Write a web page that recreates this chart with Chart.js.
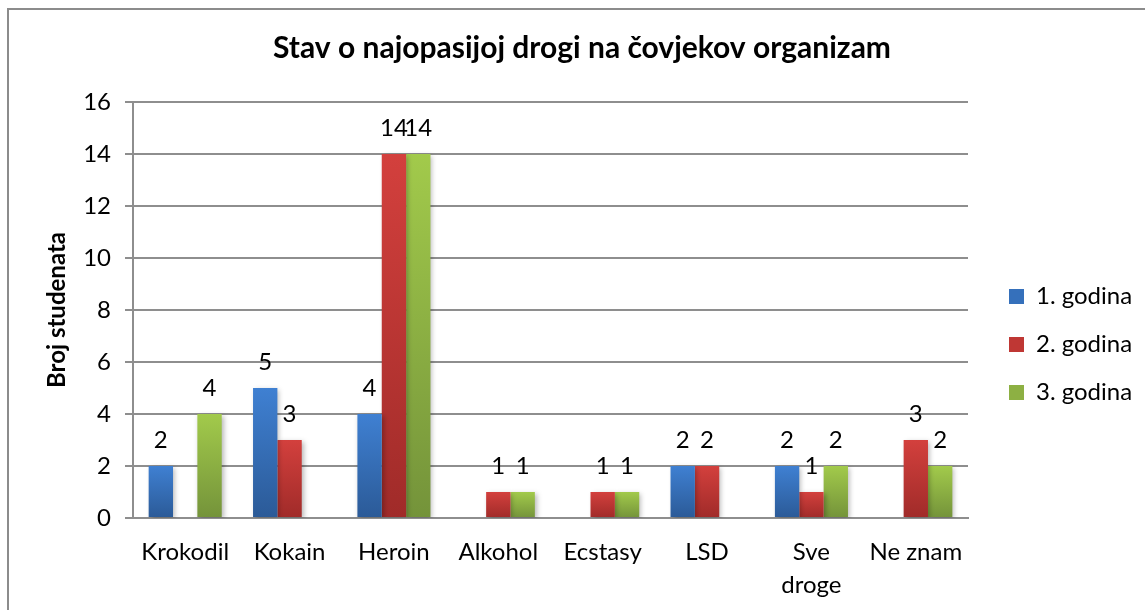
<!DOCTYPE html>
<html><head><meta charset="utf-8">
<script src="https://cdn.jsdelivr.net/npm/chart.js@4.4.0/dist/chart.umd.min.js"></script>
<style>
html,body{margin:0;padding:0;background:#fff;overflow:hidden}
#wrap{position:relative;width:1145px;height:610px}
#frame{position:absolute;left:7px;top:8px;width:1300px;height:800px;border:2px solid #8c8c8c;box-sizing:border-box}
canvas{position:absolute;left:0;top:0}
</style></head><body>
<div id="wrap"><div id="frame"></div><canvas id="c" width="1145" height="610"></canvas></div>
<script>
// ---- data ----
const categories = ['Krokodil', 'Kokain', 'Heroin', 'Alkohol', 'Ecstasy', 'LSD', ['Sve', 'droge'], 'Ne znam'];
const seriesNames = ['1. godina', '2. godina', '3. godina'];
const godina1 = [2, 5, 4, 0, 0, 2, 2, 0];
const godina2 = [0, 3, 14, 1, 1, 2, 1, 3];
const godina3 = [4, 0, 14, 1, 1, 0, 2, 2];
const yMin = 0, yMax = 16, yStep = 2;
const chartTitle = 'Stav o najopasijoj drogi na čovjekov organizam';
const yTitle = 'Broj studenata';

// ---- styles ----
const FONT = 'Lato';
const tickSize = 24;
const gradTop = ['#3f80d2', '#d3403d', '#a2ca4b'];
const gradBot = ['#2b5a97', '#a02b29', '#74933a'];
const legendFill = ['#3570bb', '#bf3734', '#8db043'];
const gridColor = '#8e8e8e';

// layout computation
const mctx = document.createElement('canvas').getContext('2d');
mctx.font = tickSize + 'px ' + FONT;
const maxLegendText = Math.max(...seriesNames.map(s => mctx.measureText(s).width));
const legPad = 24, boxW = 15;
const legendWidth = legPad + boxW + tickSize / 2 + maxLegendText + 10;
const plotLeft = 133, plotRight = 968, legendBoxX = 1009;
const spacer = legendBoxX - legPad - plotRight;
let padR = Math.max(0, 1145 - plotRight - spacer - legendWidth);
let padL = padR + 19;
const yTitleSize = 24;
const yTitlePadTop = Math.max(0, 57 - padL - yTitleSize * 0.6);

const valueLabels = {
  id: 'valueLabels',
  afterDatasetsDraw(chart) {
    const ctx = chart.ctx;
    ctx.save();
    ctx.font = tickSize + 'px ' + FONT;
    ctx.fillStyle = '#000';
    ctx.textAlign = 'center';
    ctx.textBaseline = 'middle';
    chart.data.datasets.forEach((ds, i) => {
      const meta = chart.getDatasetMeta(i);
      meta.data.forEach((bar, j) => {
        const v = ds.data[j];
        if (!v) return;
        ctx.fillText(String(v), bar.x, bar.y - 26);
      });
    });
    ctx.restore();
  }
};
const barShadow = {
  id: 'barShadow',
  beforeDatasetDraw(chart) {
    const ctx = chart.ctx;
    ctx.save();
    ctx.shadowColor = 'rgba(0,0,0,0.28)';
    ctx.shadowBlur = 5;
    ctx.shadowOffsetX = 2;
    ctx.shadowOffsetY = 2;
  },
  afterDatasetDraw(chart) { chart.ctx.restore(); }
};

function gradFor(i) {
  return (c) => {
    const chart = c.chart;
    const y = chart.scales && chart.scales.y;
    if (!y || !chart.chartArea || c.type !== 'data') return legendFill[i];
    const v = c.raw || 0;
    const top = y.getPixelForValue(v), bot = y.getPixelForValue(0);
    if (!(bot - top > 0.5)) return legendFill[i];
    const g = chart.ctx.createLinearGradient(0, top, 0, bot);
    g.addColorStop(0, gradTop[i]);
    g.addColorStop(1, gradBot[i]);
    return g;
  };
}

const seriesData = [godina1, godina2, godina3];
new Chart(document.getElementById('c'), {
  type: 'bar',
  data: {
    labels: categories,
    datasets: seriesNames.map((n, i) => ({
      label: n,
      data: seriesData[i],
      backgroundColor: gradFor(i),
      borderWidth: 0,
      categoryPercentage: 0.70,
      barPercentage: 1.0
    }))
  },
  options: {
    responsive: false,
    animation: false,
    layout: { padding: { left: padL, right: padR, top: 0, bottom: 0 } },
    plugins: {
      tooltip: { enabled: false },
      title: {
        display: true, text: chartTitle, color: '#000',
        font: { family: FONT, size: 30, weight: 'bold', lineHeight: 1.2 },
        padding: { top: 30, bottom: 36 }
      },
      legend: {
        position: 'right', align: 'start',
        title: { display: true, text: '', padding: { top: 250.5, bottom: 0 }, font: { size: 10, lineHeight: 1 } },
        labels: {
          boxWidth: boxW, boxHeight: 15, padding: legPad, color: '#000',
          font: { family: FONT, size: tickSize },
          generateLabels: (chart) => chart.data.datasets.map((ds, i) => ({
            text: ds.label, fillStyle: legendFill[i], strokeStyle: legendFill[i], fontColor: '#000',
            lineWidth: 0, datasetIndex: i, hidden: false
          }))
        }
      }
    },
    scales: {
      x: {
        grid: { display: false, drawTicks: false },
        border: { display: true, color: gridColor, width: 2 },
        ticks: { color: '#000', padding: 17, font: { family: FONT, size: tickSize, lineHeight: 1.4 }, maxRotation: 0, autoSkip: false },
        afterFit(s) { s.height = 92; }
      },
      y: {
        min: yMin, max: yMax,
        ticks: { stepSize: yStep, color: '#000', padding: 14, font: { family: FONT, size: tickSize } },
        grid: { color: gridColor, lineWidth: 2, tickLength: 8 },
        border: { display: true, color: gridColor, width: 2 },
        title: { display: true, text: yTitle, color: '#000', font: { family: FONT, size: yTitleSize, weight: 'bold', lineHeight: 1.2 }, padding: { top: yTitlePadTop, bottom: 0 } },
        afterFit(s) { s.width = plotLeft - padL; }
      },
      spacer: {
        position: 'right', display: true,
        grid: { display: false, drawTicks: false }, border: { display: false },
        ticks: { display: false },
        afterFit(s) { s.width = spacer; }
      }
    }
  },
  plugins: [barShadow, valueLabels]
});
</script>
</body></html>
